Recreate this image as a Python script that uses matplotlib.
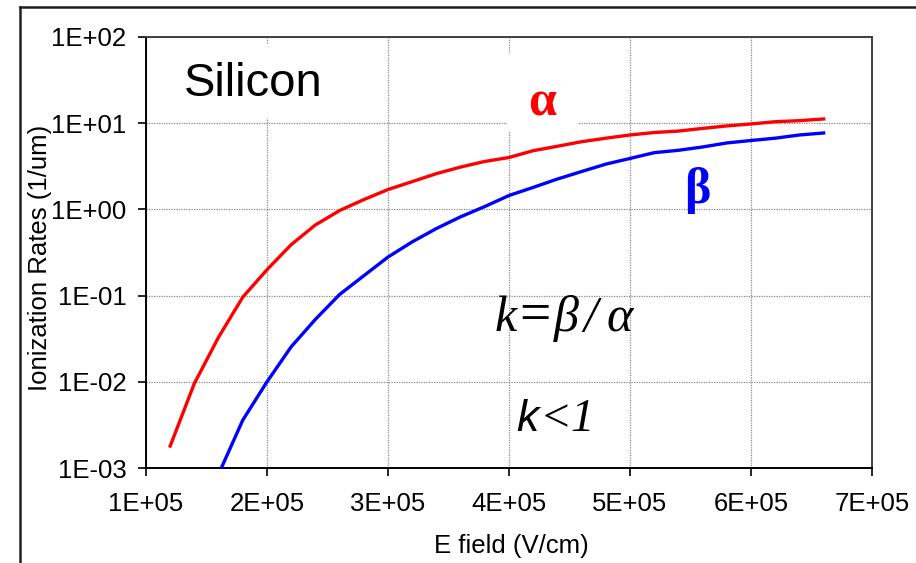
import matplotlib
matplotlib.use("Agg")
import matplotlib.pyplot as plt
from matplotlib.lines import Line2D
from matplotlib.patches import Rectangle

# Impact ionization rates in silicon (1/um) versus electric field (V/cm)
e_field_alpha = [1.2e5, 1.4e5, 1.6e5, 1.8e5, 2.0e5, 2.2e5, 2.4e5, 2.6e5, 2.8e5, 3.0e5,
                 3.2e5, 3.4e5, 3.6e5, 3.8e5, 4.0e5, 4.2e5, 4.4e5, 4.6e5, 4.8e5, 5.0e5,
                 5.2e5, 5.4e5, 5.6e5, 5.8e5, 6.0e5, 6.2e5, 6.4e5, 6.6e5]
alpha = [1.8e-3, 9.6e-3, 3.3e-2, 9.6e-2, 0.20, 0.39, 0.66, 0.97, 1.3, 1.7,
         2.1, 2.6, 3.1, 3.6, 4.0, 4.8, 5.4, 6.1, 6.7, 7.3,
         7.8, 8.1, 8.7, 9.3, 9.8, 10.4, 10.7, 11.2]

e_field_beta = [1.6e5, 1.8e5, 2.0e5, 2.2e5, 2.4e5, 2.6e5, 2.8e5, 3.0e5, 3.2e5, 3.4e5,
                3.6e5, 3.8e5, 4.0e5, 4.2e5, 4.4e5, 4.6e5, 4.8e5, 5.0e5, 5.2e5, 5.4e5,
                5.6e5, 5.8e5, 6.0e5, 6.2e5, 6.4e5, 6.6e5]
beta = [8.5e-4, 3.6e-3, 1.0e-2, 2.55e-2, 5.3e-2, 0.103, 0.17, 0.28, 0.42, 0.60,
        0.82, 1.08, 1.45, 1.8, 2.25, 2.75, 3.35, 3.9, 4.55, 4.85,
        5.3, 5.9, 6.3, 6.7, 7.3, 7.7]

x_ticks = [1e5, 2e5, 3e5, 4e5, 5e5, 6e5, 7e5]
x_tick_labels = ["1E+05", "2E+05", "3E+05", "4E+05", "5E+05", "6E+05", "7E+05"]
y_ticks = [1e-3, 1e-2, 1e-1, 1e0, 1e1, 1e2]
y_tick_labels = ["1E-03", "1E-02", "1E-01", "1E+00", "1E+01", "1E+02"]

W, H = 916, 563
fig = plt.figure(figsize=(W / 100, H / 100), dpi=100)
fig.patch.set_facecolor("white")

sans = "Liberation Sans"
serif = "Liberation Serif"

ax = fig.add_axes([146 / W, 1 - 468 / H, 726 / W, 431 / H])
ax.set_yscale("log")
ax.set_xlim(1e5, 7e5)
ax.set_ylim(1e-3, 1e2)

ax.plot(e_field_alpha, alpha, color="#ff0000", lw=2.4, solid_joinstyle="round", zorder=3)
ax.plot(e_field_beta, beta, color="#0000ff", lw=2.4, solid_joinstyle="round", zorder=3)

ax.set_xticks(x_ticks)
ax.set_xticklabels(x_tick_labels, fontsize=18.5, fontfamily=sans)
ax.set_yticks(y_ticks)
ax.set_yticklabels(y_tick_labels, fontsize=18.5, fontfamily=sans)
ax.minorticks_off()
ax.tick_params(axis="both", direction="out", length=6, width=1.2, color="black")
ax.tick_params(axis="x", pad=11)
ax.tick_params(axis="y", pad=8)

ax.grid(True, which="major", color="#888888", linestyle=(0, (1, 1)), linewidth=0.9)
ax.set_axisbelow(True)

for side in ("left", "bottom"):
    ax.spines[side].set_color("black")
    ax.spines[side].set_linewidth(1.4)
for side in ("top", "right"):
    ax.spines[side].set_color("#404040")
    ax.spines[side].set_linewidth(1.4)


def px(x, y):
    """Pixel position measured from the top-left corner -> figure fraction."""
    return x / W, 1 - y / H


ftr = fig.transFigure

# axis titles
fig.text(*px(511, 546), "E field (V/cm)", fontsize=18.5, fontfamily=sans,
         ha="center", va="center")
fig.text(*px(40, 258), "Ionization Rates (1/um)", fontsize=18.5, fontfamily=sans,
         ha="center", va="center", rotation=90)

# white label backgrounds sit above the grid but below the curves
for (x0, y0, x1, y1) in [(176, 44, 330, 118), (507, 53, 578, 132)]:
    fx0, fy1 = px(x0, y0)
    fx1, fy0 = px(x1, y1)
    ax.add_patch(Rectangle((fx0, fy0), fx1 - fx0, fy1 - fy0, transform=ftr,
                           facecolor="white", edgecolor="none", zorder=1.5))

ax.text(*px(253, 84), "Silicon", transform=ftr, fontsize=34, fontfamily=sans,
        ha="center", va="center", zorder=2)
ax.text(*px(542, 103), "α", transform=ftr, fontsize=36, fontfamily=serif,
        fontweight="bold", color="#ff0000", ha="center", va="center", zorder=2)
ax.text(*px(697, 191), "β", transform=ftr, fontsize=36, fontfamily=serif,
        fontweight="bold", color="#0000ff", ha="center", va="center", zorder=2)

# ratio formula, glyph by glyph
ratio_glyphs = ["k", "=", "β", "/", "α"]
ratio_x = [506, 535, 566, 590, 620]
for g, gx in zip(ratio_glyphs, ratio_x):
    ax.text(*px(gx, 331), g, transform=ftr, fontsize=36 if g != "=" else 40,
            fontfamily=serif, style="italic" if g != "=" else "normal",
            ha="center", va="baseline", zorder=2)

ax.text(*px(539, 431), "k", transform=ftr, fontsize=32, fontfamily=sans,
        style="italic", ha="right", va="baseline", zorder=2)
ax.text(*px(540, 431), "<1", transform=ftr, fontsize=34, fontfamily=serif,
        style="italic", ha="left", va="baseline", zorder=2)

# outer chart frame (left and top edges visible)
fig.add_artist(Line2D([20 / W, 20 / W], [-0.05, 1 - 7 / H], color="#202020", lw=1.8))
fig.add_artist(Line2D([20 / W, 1.05], [1 - 7 / H, 1 - 7 / H], color="#202020", lw=1.8))

fig.savefig("out.png", dpi=100, facecolor="white")
